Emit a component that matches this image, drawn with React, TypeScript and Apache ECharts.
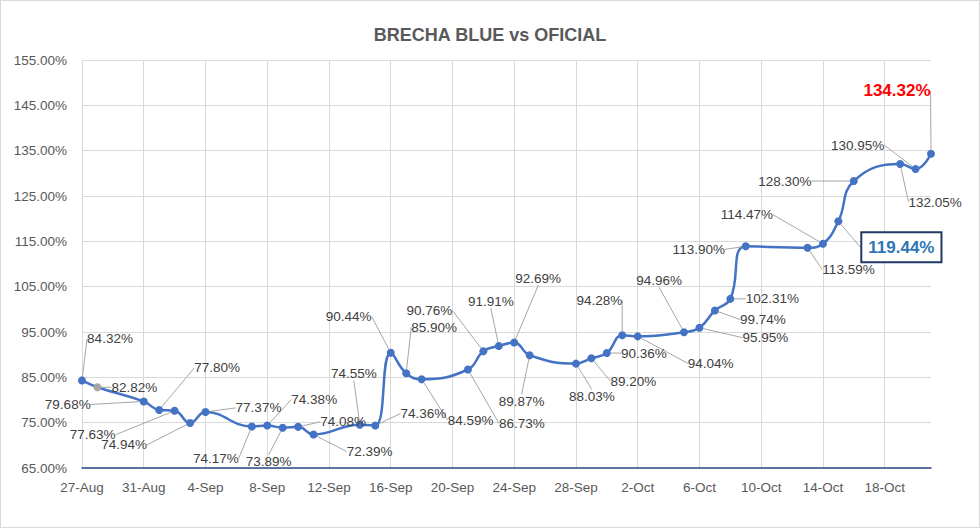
import React, { useEffect, useRef } from "react";
import * as echarts from "echarts";

const dates = [
  "2020-08-27", "2020-08-28", "2020-08-31", "2020-09-01", "2020-09-02", "2020-09-03", "2020-09-04",
  "2020-09-07", "2020-09-08", "2020-09-09", "2020-09-10", "2020-09-11",
  "2020-09-14", "2020-09-15", "2020-09-16", "2020-09-17", "2020-09-18",
  "2020-09-21", "2020-09-22", "2020-09-23", "2020-09-24", "2020-09-25",
  "2020-09-28", "2020-09-29", "2020-09-30", "2020-10-01", "2020-10-02",
  "2020-10-05", "2020-10-06", "2020-10-07", "2020-10-08", "2020-10-09",
  "2020-10-13", "2020-10-14", "2020-10-15", "2020-10-16",
  "2020-10-19", "2020-10-20", "2020-10-21",
];
const brecha = [
  84.32, 82.82, 79.68, 77.8, 77.63, 74.94, 77.37,
  74.17, 74.38, 73.89, 74.08, 72.39,
  74.55, 74.36, 90.44, 85.9, 84.59,
  86.73, 90.76, 91.91, 92.69, 89.87,
  88.03, 89.2, 90.36, 94.28, 94.04,
  94.96, 95.95, 99.74, 102.31, 113.9,
  113.59, 114.47, 119.44, 128.3,
  132.05, 130.95, 134.32,
];
const yTicks = { min: 65, max: 155, step: 10 };
const startDate = "2020-08-27";
const endDate = "2020-10-21";
const monthNames = ["Jan", "Feb", "Mar", "Apr", "May", "Jun", "Jul", "Aug", "Sep", "Oct", "Nov", "Dec"];

// label offsets (px) from each point (layout only)
const labelOffsets: [number, number][] = [
  [28, -42], [37, 0], [-76, 3], [58, -42], [-82, 24], [-66, 22], [53, -4],
  [-36, 32], [47, -26], [-14, 34], [45, -5], [56, 17],
  [-6, -51], [48, -12], [-42, -36], [28, -46], [49, 41],
  [54, 54], [-54, -41], [-8, -45], [24, -64], [-8, 46],
  [16, 33], [42, 23], [37, 0], [-23, -35], [73, 27],
  [-25, -52], [66, 10], [48, 9], [42, 0], [-47, 3],
  [41, 22], [-76, -29], [63, 26], [-69, 0],
  [35, 38], [-58, -24], [-34, -63],
];

const DAY = 86400000;
const toDay = (s: string) => {
  const [y, m, d] = s.split("-").map(Number);
  const [y0, m0, d0] = startDate.split("-").map(Number);
  return Math.round((Date.UTC(y, m - 1, d) - Date.UTC(y0, m0 - 1, d0)) / DAY);
};
const dayLabel = (n: number) => {
  const [y0, m0, d0] = startDate.split("-").map(Number);
  const dt = new Date(Date.UTC(y0, m0 - 1, d0) + n * DAY);
  return `${dt.getUTCDate()}-${monthNames[dt.getUTCMonth()]}`;
};

export default function App() {
  const ref = useRef<HTMLDivElement>(null);
  useEffect(() => {
    if (!ref.current) return;
    const chart = echarts.init(ref.current, undefined, { renderer: "svg" });
    const font = "'Liberation Sans', Arial, sans-serif";
    const lastIdx = brecha.length - 1;
    const data = brecha.map((v, i) => {
      const item: any = { value: [toDay(dates[i]), v] };
      if (i === 1) item.itemStyle = { color: "#A5A5A5" };
      if (i === lastIdx) {
        item.label = { color: "#FF0000", fontWeight: "bold", fontSize: 17 };
      }
      if (dates[i] === "2020-10-15") {
        item.label = {
          color: "#2E75B6",
          fontWeight: "bold",
          fontSize: 17,
          borderColor: "#203864",
          borderWidth: 2,
          padding: [6, 6, 5, 6],
          backgroundColor: "#ffffff",
        };
      }
      return item;
    });
    chart.setOption({
      animation: false,
      backgroundColor: "#ffffff",
      title: {
        text: "BRECHA BLUE vs OFICIAL",
        left: "center",
        top: 20,
        textStyle: { fontSize: 18, fontWeight: "bold", color: "#595959", fontFamily: font },
      },
      grid: { left: 81, right: 48, top: 59, bottom: 59 },
      xAxis: {
        type: "value",
        min: 0,
        max: toDay(endDate),
        interval: 4,
        axisLine: { show: true, onZero: false, lineStyle: { color: "#2F4A86", width: 1.5 } },
        axisTick: { show: false },
        axisLabel: {
          formatter: (v: number) => dayLabel(v),
          color: "#595959",
          fontSize: 13.5,
          fontFamily: font,
          margin: 12,
          showMaxLabel: false,
        },
        splitLine: { show: true, showMaxLine: false, lineStyle: { color: "#D9D9D9", width: 1 } },
      },
      yAxis: {
        type: "value",
        min: yTicks.min,
        max: yTicks.max,
        interval: yTicks.step,
        axisLine: { show: false },
        axisTick: { show: false },
        axisLabel: {
          formatter: (v: number) => v.toFixed(2) + "%",
          color: "#595959",
          fontSize: 13.5,
          fontFamily: font,
          margin: 15,
        },
        splitLine: { show: true, lineStyle: { color: "#D9D9D9", width: 1 } },
      },
      series: [
        {
          type: "line",
          data,
          smooth: 0.45,
          symbol: "circle",
          symbolSize: 8,
          itemStyle: { color: "#4472C4" },
          lineStyle: { color: "#4472C4", width: 2.5 },
          label: {
            show: true,
            position: "inside",
            formatter: (p: any) => p.value[1].toFixed(2) + "%",
            color: "#404040",
            fontSize: 13.5,
            fontFamily: font,
          },
          labelLine: { show: true, lineStyle: { color: "#A6A6A6", width: 1 } },
          labelLayout: (p: any) => ({
            dx: labelOffsets[p.dataIndex][0],
            dy: labelOffsets[p.dataIndex][1],
          }),
        },
      ],
    });
    return () => chart.dispose();
  }, []);
  return (
    <div
      ref={ref}
      style={{
        position: "absolute",
        left: 0,
        top: 0,
        width: 980,
        height: 528,
        boxSizing: "border-box",
        border: "1px solid #D9D9D9",
      }}
    />
  );
}
